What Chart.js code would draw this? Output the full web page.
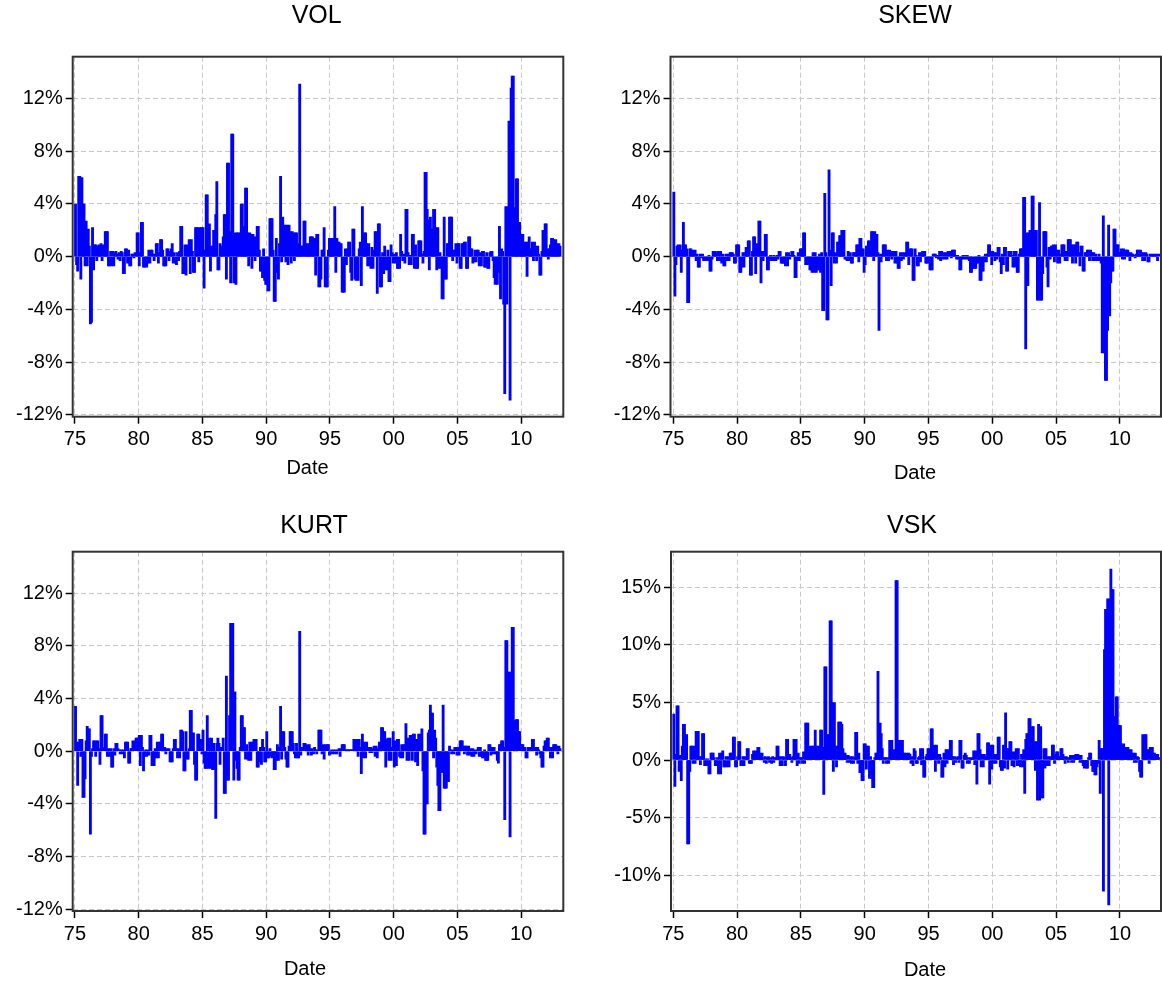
<!DOCTYPE html>
<html>
<head>
<meta charset="utf-8">
<script src="https://cdn.jsdelivr.net/npm/chart.js@4.4.1/dist/chart.umd.min.js"></script>
<style>
  html, body { margin: 0; padding: 0; background: #ffffff; width: 1162px; height: 983px; overflow: hidden; }
  canvas { position: absolute; display: block; }
</style>
</head>
<body>
<canvas id="c0" width="581" height="491" style="left:0px;top:0px"></canvas>
<canvas id="c1" width="581" height="491" style="left:581px;top:0px"></canvas>
<canvas id="c2" width="581" height="492" style="left:0px;top:491px"></canvas>
<canvas id="c3" width="581" height="492" style="left:581px;top:491px"></canvas>
<script>
// ---------------- DATA (monthly, percent) ----------------
const START_YEAR = 1975;   // first observation: January 1975

const VOL = [
  4.0, -0.6, -1.1, 6.1, 6.1, -1.7, 6.0, 4.0, 4.0, -0.7, 2.7, -0.7,
  2.1, 0.8, -5.1, -5.0, 2.2, -1.0, 0.9, 0.9, -0.3, 0.8, 0.9, 0.7,
  1.0, -0.3, 0.9, 0.2, 1.9, 1.9, 1.9, -0.7, -0.7, 0.4, -0.7, 0.4,
  -0.7, 0.3, 0.4, 0.2, -0.2, 0.3, -0.3, 0.4, 0.3, -1.3, -1.3, 0.6,
  0.6, -0.5, 0.5, -0.7, -0.7, 0.2, 0.2, -0.1, 0.3, 0.2, 1.8, 1.8,
  -0.7, 0.3, 2.6, 2.6, -0.8, -0.8, -0.6, -0.8, -0.5, 0.5, -0.5, 0.5,
  0.5, 0.2, -0.3, 0.2, 1.0, 1.0, -0.5, 0.3, 1.3, 1.3, 0.5, -0.7,
  -0.7, -0.7, 0.6, 0.6, -0.3, 0.4, 0.6, 1.0, -0.5, 0.3, -0.5, -0.6,
  0.3, -0.3, 0.4, 2.3, 2.3, -1.3, -1.3, 0.9, -1.4, 0.9, 0.5, 1.3,
  -1.3, 1.3, 0.4, -1.2, -1.2, 2.2, 2.2, 2.2, -0.4, 2.2, 2.2, 2.2,
  2.2, -2.4, 0.5, 4.7, 4.7, 1.2, 2.5, -1.1, 0.8, 0.8, 2.0, 2.0,
  3.2, 5.7, -1.0, -1.0, 1.0, 0.8, 0.8, 1.5, 3.2, 3.2, -1.7, 7.1,
  7.1, 1.9, -2.0, 9.3, 9.3, -2.0, 1.8, -2.1, 1.8, 1.8, 1.5, 1.8,
  4.0, 4.0, 2.3, 2.3, 5.2, 5.2, 1.8, -0.7, 1.8, 1.7, -0.9, 1.7,
  1.5, -0.3, 1.5, 2.3, 2.3, 0.5, -1.1, -1.1, -1.6, 0.6, -1.8, -2.1,
  -2.1, -2.6, -2.6, 2.9, 2.9, 2.9, 0.5, -3.4, -3.4, 1.4, -1.2, -1.7,
  1.0, 6.1, -0.4, 3.0, 2.4, 2.4, -0.4, 2.4, -0.6, 2.4, 1.9, -0.5,
  1.9, 1.8, -0.3, 1.8, 1.8, 1.0, 0.6, 13.1, 0.8, 0.8, 0.8, 2.7,
  2.7, 1.0, 0.6, 1.0, 0.6, 1.5, 1.5, 1.5, 1.4, 1.4, -1.4, 1.7,
  1.7, -2.3, -2.3, -1.7, 0.5, 0.5, 2.2, -2.3, -2.3, -2.3, 0.5, 1.4,
  1.4, 1.4, 1.0, 1.4, 3.8, -1.2, 1.4, 1.1, 1.1, 1.0, 1.0, -2.7,
  -2.7, -2.7, 0.6, -0.6, 0.6, 1.1, 1.1, -1.2, -1.8, 2.1, 2.1, -1.7,
  -1.8, -1.7, -1.8, 0.6, 1.1, -2.2, 3.8, 1.5, 1.8, 1.8, 1.0, -0.7,
  1.0, -0.7, -0.9, 0.7, -0.9, 0.5, 1.9, 1.9, -2.8, 2.5, 2.5, -2.3,
  -2.3, 0.3, -1.3, 0.8, -1.0, -1.0, 0.5, -1.9, -1.9, 0.9, 0.3, -0.5,
  0.2, -0.5, 0.3, -0.9, -0.9, -0.9, 1.7, 0.4, -0.3, 0.2, -0.5, 3.6,
  3.6, 0.3, -0.6, 0.1, -0.6, 1.7, 1.7, -0.9, 0.9, -0.9, -0.9, 1.2,
  1.2, 1.2, 0.2, -0.5, 0.4, 6.4, 6.4, 3.6, 2.8, -1.0, 3.0, 2.1,
  2.1, 3.6, 3.6, 2.2, -1.0, 2.2, -0.9, 0.3, -0.9, -3.2, -3.2, 3.0,
  -1.7, -1.7, 1.0, 1.0, 3.0, 3.0, 3.0, -0.3, 0.5, 0.5, 1.0, -0.5,
  1.0, 1.0, -0.9, -0.9, 1.0, 1.0, 1.1, 1.1, -0.9, -0.9, 1.5, 1.5,
  0.6, 0.6, -0.5, -0.4, 0.5, -0.4, 0.5, 0.5, -0.7, 0.3, -0.7, 0.4,
  0.4, -0.8, -0.8, 0.3, -0.9, -0.9, 0.3, 0.4, 0.4, -0.3, -1.6, -2.1,
  -1.6, -2.1, -1.2, 2.3, -3.2, 0.6, 0.4, -3.6, -10.4, 3.8, -3.6, 3.8,
  10.3, -10.9, 12.8, 13.7, 13.7, 3.7, 3.7, 5.9, 5.9, 2.6, 2.6, 1.7,
  1.7, 1.7, 0.9, 1.1, 1.1, -1.5, 1.1, 1.5, 0.6, 0.6, 1.1, -0.3,
  1.1, 0.8, -0.3, 0.8, 0.2, -1.4, -1.4, 0.4, 2.0, 2.0, 2.5, 2.5,
  0.6, -0.2, 0.6, 0.9, 1.4, 1.4, 1.3, 1.0, 1.3, 1.0, 0.3, 1.0,
  0.8
];

const SKEW = [
  4.9, -3.0, -0.6, 0.8, 0.9, 0.4, 0.9, -1.2, 0.5, 2.6, 0.9, 0.9,
  0.6, -3.5, -3.5, 0.6, 0.6, 0.3, 0.5, 0.3, 0.5, -0.3, 0.2, -0.8,
  -0.8, 0.2, -0.1, 0.2, -0.3, -0.3, -0.1, -0.3, -0.3, 0.1, -1.1, -1.1,
  -0.2, 0.4, 0.4, 0.4, 0.3, -0.3, 0.4, -0.3, 0.4, -0.5, 0.2, -0.7,
  -0.7, 0.2, -0.3, 0.2, -0.3, 0.3, 0.3, 0.3, 0.2, -0.5, -0.5, 0.9,
  0.9, 0.9, -1.2, -1.2, -0.8, 0.3, -0.8, 0.3, 0.7, 0.7, 1.2, 1.2,
  -1.4, -1.4, 0.4, 1.5, 1.5, -1.3, 1.0, 0.5, 2.7, 2.7, -2.0, 0.4,
  -0.3, 0.4, 1.7, 1.7, -1.0, -1.0, -0.3, 0.1, -0.3, -0.3, 0.1, -0.3,
  -0.3, 0.1, -0.2, 0.4, 0.4, -0.5, -0.5, -0.5, -0.5, -0.7, 0.3, -0.7,
  0.3, -0.2, 0.1, 0.4, 0.4, 0.1, -1.6, -1.6, -0.3, 0.3, -0.3, 0.6,
  0.6, 0.6, 1.8, 1.8, -0.6, -0.6, -0.6, -0.6, -1.0, -1.0, -1.2, 0.3,
  -1.2, 0.3, -1.2, -1.0, -1.0, 0.2, -1.2, 0.3, -4.1, -4.1, 4.8, 0.3,
  -4.8, -4.8, 6.6, 0.5, -2.2, 1.8, 1.8, -0.5, 0.3, -0.5, 1.1, 1.1,
  1.6, 1.6, 2.0, 2.0, 2.0, -0.2, -0.2, -0.3, 0.4, -0.3, 0.3, -0.5,
  -0.5, 0.3, 0.3, 0.2, 0.9, 0.9, -0.4, 1.4, 1.4, 0.6, 0.6, -1.2,
  -0.6, 0.8, 0.8, 1.2, 1.2, 0.3, 1.9, 1.9, -0.3, 1.9, 1.7, 1.7,
  0.3, -5.6, 0.2, -0.4, 0.2, 0.9, 0.9, 0.9, -0.3, 0.5, -0.3, 0.5,
  0.4, -0.2, 0.4, 0.4, -0.5, 0.4, -0.5, -0.9, -0.9, 0.3, -0.3, 0.3,
  -0.2, 0.3, 0.2, 1.1, 1.1, -0.6, 0.6, 0.6, 0.6, -1.8, -1.8, 0.6,
  0.1, -0.7, -0.7, 0.3, -0.4, 0.3, 0.4, 0.4, 0.4, -0.5, -0.5, -0.5,
  -0.3, -1.0, -1.0, -1.0, 0.2, 0.2, 0.2, -0.1, 0.1, -0.2, 0.4, -0.3,
  0.4, -0.2, 0.3, -0.2, 0.3, -0.2, 0.4, 0.4, 0.4, -0.1, 0.5, 0.5,
  0.5, 0.1, -0.2, 0.1, -0.2, -1.0, -1.0, -0.2, 0.1, -0.2, 0.1, -0.2,
  0.1, -0.2, -0.3, -1.2, -1.2, -0.9, -0.9, -0.9, -0.9, -0.5, -0.5, 0.1,
  -1.8, -1.8, -1.1, -1.1, -0.4, 0.2, -0.4, 0.2, 0.9, 0.9, 0.4, -0.6,
  0.4, 0.3, -0.3, 0.3, -0.2, 0.7, 0.7, -0.4, -1.3, 0.2, -0.6, 0.7,
  0.7, -1.1, -1.1, 0.4, 0.4, 0.4, 0.1, -0.8, 0.4, -0.8, 0.4, -1.2,
  -1.2, 0.2, 0.6, 0.6, 0.6, 4.5, 4.5, -7.0, 1.8, -2.2, 1.8, 2.0,
  2.0, 4.6, 4.6, 2.0, 0.9, 2.0, -3.3, -3.3, 4.1, -3.3, -3.3, -1.3,
  1.9, 1.9, 1.9, -0.8, -2.3, 0.7, -0.2, 0.8, 0.8, 0.9, -0.4, 0.9,
  0.5, -0.5, 0.5, -0.5, 0.2, 0.9, 0.9, 0.9, -0.3, 0.4, -0.3, 1.3,
  1.3, 1.3, 0.9, -0.5, 0.9, 0.9, -0.5, 1.1, 1.1, 0.3, -0.7, 0.8,
  0.8, -1.1, -1.1, 0.3, 0.3, 0.5, 0.5, -0.3, 0.5, 0.3, -0.3, 0.3,
  -0.3, 0.2, -0.3, -0.3, 0.2, -0.3, -0.5, -7.3, 3.1, -7.3, -9.4, -9.4,
  -5.6, 2.4, -4.5, -2.0, -1.1, -1.1, 2.1, 2.1, 0.9, 0.9, 0.9, 0.3,
  0.3, 0.6, -0.2, 0.6, -0.2, 0.5, 0.5, 0.5, 0.3, -0.3, 0.3, 0.2,
  0.2, 0.1, -0.1, 0.2, 0.5, 0.5, 0.3, 0.5, 0.3, -0.3, 0.3, -0.3,
  0.3, 0.2, -0.4, -0.4, 0.2, 0.1, 0.2, 0.1, 0.2, 0.1, 0.2, -0.3,
  0.2
];

const KURT = [
  3.4, 0.7, -2.6, 0.7, 0.9, -0.4, 0.9, -3.5, -3.5, -2.1, 0.8, 1.9,
  1.7, 1.7, -6.3, -0.4, 0.2, 0.8, 0.8, -0.4, 0.8, 0.8, 0.2, -1.0,
  2.7, 2.7, 0.3, 0.2, 1.3, 1.3, -0.4, 0.2, -0.4, 0.2, -1.2, -1.2,
  0.2, -0.3, 0.6, 0.6, 0.2, 0.1, -0.2, 0.1, -0.2, 0.1, -0.5, 0.7,
  0.7, 0.7, -0.9, -0.9, 0.2, 0.2, 0.8, 0.2, 0.8, 1.0, 1.0, 1.0,
  1.2, -1.1, 1.2, 0.3, -1.5, -0.4, 0.1, -0.4, 0.1, -0.3, 1.2, 1.2,
  -1.1, -1.1, -1.1, 0.2, -0.5, 0.7, -0.5, 0.7, 0.7, 1.3, 1.3, 0.3,
  0.3, -0.2, 0.2, 0.1, 0.2, -0.8, -0.8, -0.8, 0.2, 0.9, 0.9, 0.2,
  -0.5, 0.2, -0.5, 1.6, 1.6, 1.5, -1.5, -1.5, 1.5, -0.6, -0.6, 0.2,
  3.1, 3.1, 1.3, 1.4, -1.0, -2.2, -2.2, 1.3, 1.3, 0.4, 0.9, -0.2,
  1.6, -0.9, -1.3, -1.3, 2.7, -1.3, 1.0, -1.3, 1.0, -1.4, 0.6, -1.4,
  -5.1, 0.6, 1.0, 0.6, -1.0, 0.3, 0.3, 1.0, -3.2, -3.2, 5.7, -2.2,
  -2.2, 2.7, 9.7, 9.7, 9.7, -2.2, 4.5, -0.7, -1.3, -2.2, -2.2, 0.3,
  2.7, 2.7, 1.8, 1.8, -0.6, 0.5, -0.6, -0.7, 0.7, -0.7, 0.7, 0.7,
  0.9, 0.4, 0.9, -1.2, -1.2, -0.8, 0.3, -1.0, 0.9, 0.3, -0.8, -0.8,
  1.5, -0.5, -0.5, 0.2, -0.4, -0.5, -0.4, -1.4, -1.4, -0.7, 0.5, -0.7,
  0.3, 3.4, -0.6, 1.5, 1.5, 0.3, -0.6, -1.2, -1.2, 0.4, 1.5, 1.5,
  1.5, 0.6, -0.2, -0.5, 0.6, -0.5, -0.5, 9.1, -0.3, 0.3, 0.3, 0.6,
  0.6, 0.3, 0.5, -0.3, 0.5, 0.2, -0.3, 0.2, -0.2, 0.3, 0.1, -0.2,
  0.1, 1.6, 1.6, 1.6, -0.2, 0.5, -0.6, 0.5, 0.1, 0.5, 0.5, -0.3,
  -0.2, 0.1, -0.2, 0.1, -0.2, 0.1, -0.2, 0.1, 0.2, -0.4, 0.2, 0.5,
  0.5, 0.5, 0.1, 0.1, 0.1, 0.1, 0.1, 0.1, 0.1, 0.1, 0.9, 0.9,
  0.9, 0.9, -0.4, 0.9, 0.3, -1.7, 1.3, -0.5, 0.7, -0.5, 0.7, 0.2,
  0.3, -0.1, 0.3, -0.1, 0.2, 0.4, -0.4, 0.4, -0.5, 0.2, 0.7, 0.7,
  1.8, 1.8, 1.5, 1.5, -1.2, 0.9, 1.0, -0.7, 1.0, -0.7, 0.3, 1.5,
  -1.2, 0.8, -1.1, 0.9, 0.9, -0.4, -0.5, 0.5, -0.5, 0.5, 0.5, 2.1,
  -0.7, 1.0, -0.7, 1.2, 1.2, -0.7, 1.3, 1.3, -0.8, 0.9, -1.1, 1.3,
  0.4, 1.3, 1.7, -1.5, -6.3, -6.3, -4.0, -4.0, 1.4, 1.6, 3.5, 2.9,
  2.9, -0.5, 1.6, 1.0, -1.2, -2.6, -4.5, -4.5, -1.6, -1.6, 3.5, -2.8,
  -2.8, -2.8, -2.3, -2.3, 0.4, 0.1, -0.2, 0.1, -0.2, 0.3, 0.3, -0.3,
  0.3, -0.3, 0.8, 0.8, 0.8, 0.4, -0.2, 0.4, 0.4, -0.3, 0.4, -0.3,
  0.2, -0.4, 0.2, -0.4, 0.1, -0.2, 0.1, 0.3, -0.4, 0.3, -0.4, -0.5,
  -0.5, 0.1, -0.7, -0.7, -0.7, 0.5, 0.5, -0.3, 0.3, -0.2, 0.3, -0.2,
  -0.2, -0.7, -0.9, 0.5, 0.5, 0.8, 0.8, 0.3, -5.2, 8.4, 8.4, 6.0,
  6.0, -6.5, 6.0, 9.4, 9.4, 2.3, 2.3, 2.4, 2.4, 1.5, 1.5, 0.5,
  0.5, 0.5, 0.2, 0.3, -0.5, -0.5, 0.3, 0.2, 0.3, 0.2, 0.9, 0.9,
  0.3, 0.3, -0.3, 0.3, 0.1, -0.2, -0.5, -1.2, -1.2, 0.4, 0.8, 0.8,
  1.0, 1.0, 0.3, -0.5, 0.3, -0.5, 0.5, 0.5, 0.5, 0.4, -0.2, 0.4,
  0.2
];

const VSK = [
  4.0, -2.3, 0.5, 4.7, 4.7, -1.0, 0.4, -1.8, 1.2, 3.1, 3.1, 2.2,
  2.2, -7.3, -7.3, -1.0, 1.2, 1.2, -0.3, 1.2, -0.3, 2.5, 2.5, 2.5,
  0.3, -0.4, 0.3, 2.3, 2.3, -0.5, 0.1, -0.5, 0.1, -1.2, -1.2, 0.6,
  0.6, 0.6, 0.2, -0.5, -0.5, 0.2, -1.2, 0.6, -1.2, 0.6, 0.8, -0.6,
  -0.6, 0.3, -0.6, 0.3, -0.6, 0.6, 0.6, 0.6, 2.0, 2.0, -0.6, -0.6,
  0.3, 1.6, 1.6, -0.5, -0.5, 0.3, -0.5, 0.3, 0.2, 1.0, 1.0, -0.3,
  -0.3, -0.3, 0.5, 0.8, 0.5, 0.8, 0.5, 1.1, 1.1, 0.6, 0.3, 0.6,
  0.2, -0.2, 0.3, -0.3, 0.2, 0.3, -0.2, 0.2, -0.3, 0.3, -0.2, 0.2,
  0.2, 1.2, 1.2, 0.3, -0.5, 0.3, -0.5, 0.3, 0.2, -0.5, 1.8, 1.8,
  0.5, 0.5, 0.2, -0.2, 0.3, 1.8, 1.8, 1.8, -0.5, 0.6, -0.3, 0.2,
  0.2, -0.3, 0.7, -0.3, 3.2, 3.2, 3.2, 0.6, 1.2, 0.6, 1.2, 1.2,
  0.4, 2.6, 1.2, 0.4, 1.2, 0.5, 2.6, 2.6, 1.1, -3.0, 8.1, 8.1,
  1.7, 2.2, 2.2, 12.1, 12.1, 5.0, -1.0, 5.0, 1.2, -0.6, 1.2, 3.3,
  3.3, 3.3, 3.1, 1.0, 0.6, 0.6, 0.4, -0.2, 0.4, -0.2, 0.3, -0.3,
  0.3, -0.3, 0.2, 2.4, 2.4, -0.3, 0.6, -1.1, -1.1, -1.8, -1.8, 1.4,
  1.4, -0.8, 1.2, 1.2, -1.6, 0.3, -1.6, -2.4, -2.4, 0.2, 0.6, 0.6,
  7.7, 0.6, 3.2, 2.3, 1.0, -0.3, 0.2, 0.2, -0.3, 0.2, -0.3, 1.7,
  1.7, 1.7, 0.5, 0.9, 0.5, 15.6, 15.6, 1.7, 1.7, 1.7, 0.6, 1.7,
  0.6, 0.6, 0.3, 0.6, 0.3, 0.6, 0.5, -0.3, 0.3, -0.5, 1.0, 0.8,
  -0.3, -0.3, 0.2, 0.3, 1.0, -0.4, 1.0, -1.5, -1.5, 0.3, 0.5, 1.0,
  1.0, 0.3, 2.7, 2.7, 0.8, 1.3, -1.0, 1.3, 0.5, -0.3, 0.5, 0.2,
  -1.5, -1.5, 0.6, -0.6, 0.9, -0.3, 0.9, 0.2, 1.7, 1.7, 0.3, -0.4,
  0.3, -0.2, 0.2, 0.3, -0.2, 1.7, 1.7, -0.7, -0.7, 0.4, 0.6, 0.4,
  -0.3, 0.2, -0.3, 0.2, 0.1, 0.2, 0.8, -0.4, 0.8, -2.1, 2.3, 2.3,
  0.9, -0.6, 0.5, -0.6, 0.5, 0.2, 0.3, 1.5, 1.5, -2.1, 1.3, -0.8,
  1.3, -0.3, 0.5, -0.3, 0.5, 2.0, 2.0, -0.6, -0.9, -0.9, 1.3, -0.7,
  4.1, 1.0, -0.8, 1.0, 1.6, 1.6, -0.5, 0.7, -0.6, 0.7, 1.0, -0.5,
  1.0, -0.5, -0.6, 0.5, -0.6, 0.9, -2.9, 1.8, 2.3, 2.3, 3.6, 3.6,
  2.7, 2.9, 2.9, 1.6, -0.9, 1.6, -3.5, 3.1, -3.5, 2.9, -3.3, -3.3,
  1.0, -0.7, 1.0, -0.5, 0.3, -0.5, 0.3, 0.2, 1.3, 1.3, -0.3, 0.5,
  0.7, 0.7, 0.3, 0.2, 1.0, 1.0, 0.5, 0.3, -0.3, 0.3, 0.2, -0.2,
  0.2, 0.4, -0.2, 0.4, -0.2, 0.4, 0.5, 0.3, 0.5, 0.4, -0.2, 0.4,
  -0.2, -0.5, -0.7, -0.5, -0.7, -0.7, 0.2, 0.6, 0.6, -0.5, -1.0, -1.0,
  -1.3, -1.3, -0.6, -0.3, 1.7, -2.9, 1.0, 1.0, -11.4, 9.6, 13.1, 13.1,
  14.0, -12.6, 14.0, 16.6, 14.8, 14.8, 3.8, 3.8, 5.5, 5.5, 3.0, 3.0,
  3.0, 1.4, 1.1, 1.4, 1.1, 1.1, 0.6, 1.1, 0.9, 0.4, 0.9, 0.6,
  0.6, -0.2, 0.6, -0.2, 0.3, 0.2, -1.0, -1.5, -1.5, 2.2, 0.5, 2.2,
  2.2, 0.8, 0.9, -0.3, 1.1, 0.6, 1.1, 0.6, 0.6, 0.5, 0.2, 0.5,
  0.2
];

const TITLES = ['VOL', 'SKEW', 'KURT', 'VSK'];
const X_TITLE = 'Date';
const X_TICKS = [1975, 1980, 1985, 1990, 1995, 2000, 2005, 2010];
const X_TICK_LABELS = ['75', '80', '85', '90', '95', '00', '05', '10'];
const Y_TICKS_PCT = [-12, -8, -4, 0, 4, 8, 12];
const Y_TICKS_VSK = [-10, -5, 0, 5, 10, 15];

// monthly dates (decimal years, mid-month)
const MONTHS = VOL.map((_, i) => START_YEAR + (i + 0.5) / 12);

// ---------------- LAYOUT ----------------
const FONT = '"Liberation Sans", Arial, Helvetica, sans-serif';
const panels = [
  { id: 'c0', title: TITLES[0], series: VOL,  yTicks: Y_TICKS_PCT,
    canvas: [0, 0, 581, 491], area: [72.7, 56.7, 563.3, 416.7],
    x: [1974.82, 2013.30], y: [-12.15, 15.18], titlePos: [316.7, 16], datePos: [307.5, 468] },
  { id: 'c1', title: TITLES[1], series: SKEW, yTicks: Y_TICKS_PCT,
    canvas: [581, 0, 581, 491], area: [670.5, 56.7, 1161, 416.7],
    x: [1974.78, 2013.23], y: [-12.15, 15.18], titlePos: [915, 16], datePos: [915, 473] },
  { id: 'c2', title: TITLES[2], series: KURT, yTicks: Y_TICKS_PCT,
    canvas: [0, 491, 581, 492], area: [72.7, 551.7, 563.3, 911],
    x: [1974.82, 2013.30], y: [-12.12, 15.14], titlePos: [314, 526], datePos: [305, 969] },
  { id: 'c3', title: TITLES[3], series: VSK,  yTicks: Y_TICKS_VSK,
    canvas: [581, 491, 581, 492], area: [671, 551.7, 1161, 911],
    x: [1974.82, 2013.22], y: [-13.12, 18.1], titlePos: [912, 526], datePos: [925, 970] }
];

const decor = {
  id: 'decor',
  afterDraw(chart, args, opts) {
    const { ctx, chartArea: a } = chart;
    ctx.save();
    ctx.strokeStyle = '#333333';
    ctx.lineWidth = 2;
    ctx.strokeRect(a.left, a.top, a.right - a.left, a.bottom - a.top);
    ctx.fillStyle = '#000000';
    ctx.textAlign = 'center';
    ctx.textBaseline = 'middle';
    ctx.font = '25px ' + FONT;
    ctx.fillText(opts.title, opts.titleX, opts.titleY);
    ctx.font = '20px ' + FONT;
    ctx.fillText(opts.xTitle, opts.dateX, opts.dateY);
    ctx.restore();
  }
};

Chart.defaults.font.family = FONT;

panels.forEach(p => {
  const [cl, ct, cw, ch] = p.canvas;
  const [al, at, ar, ab] = p.area;
  const yW = al - cl;
  const xH = (ct + ch) - ab;
  new Chart(document.getElementById(p.id), {
    type: 'bar',
    data: {
      datasets: [{
        data: MONTHS.map((m, i) => ({ x: m, y: p.series[i] })),
        backgroundColor: '#0000ff',
        borderWidth: 0,
        barThickness: 2.2,
        grouped: false
      }]
    },
    plugins: [decor],
    options: {
      responsive: false,
      animation: false,
      events: [],
      layout: { padding: { left: 0, top: at - ct, right: (cl + cw) - ar, bottom: 0 } },
      plugins: {
        legend: { display: false },
        tooltip: { enabled: false },
        decor: {
          title: p.title, xTitle: X_TITLE,
          titleX: p.titlePos[0] - cl, titleY: p.titlePos[1] - ct,
          dateX: p.datePos[0] - cl, dateY: p.datePos[1] - ct
        }
      },
      scales: {
        x: {
          type: 'linear',
          min: p.x[0], max: p.x[1],
          offset: false,
          afterBuildTicks: s => { s.ticks = X_TICKS.map(v => ({ value: v })); },
          afterFit: s => { s.height = xH; },
          ticks: {
            autoSkip: false, maxRotation: 0, minRotation: 0,
            color: '#000000', font: { size: 20 }, padding: 4,
            callback: v => X_TICK_LABELS[X_TICKS.indexOf(v)]
          },
          grid: { color: '#c8c8c8', lineWidth: 1, drawTicks: true, tickLength: 7,
                  tickColor: '#000000', tickWidth: 1.5, offset: false },
          border: { display: false, dash: [5, 3] }
        },
        y: {
          type: 'linear',
          min: p.y[0], max: p.y[1],
          afterBuildTicks: s => { s.ticks = p.yTicks.map(v => ({ value: v })); },
          afterFit: s => { s.width = yW; },
          ticks: {
            autoSkip: false, color: '#000000', font: { size: 20 }, padding: 3,
            callback: v => v + '%'
          },
          grid: { color: '#c8c8c8', lineWidth: 1, drawTicks: true, tickLength: 7,
                  tickColor: '#000000', tickWidth: 1.5 },
          border: { display: false, dash: [5, 3] }
        }
      }
    }
  });
});
</script>
</body>
</html>
